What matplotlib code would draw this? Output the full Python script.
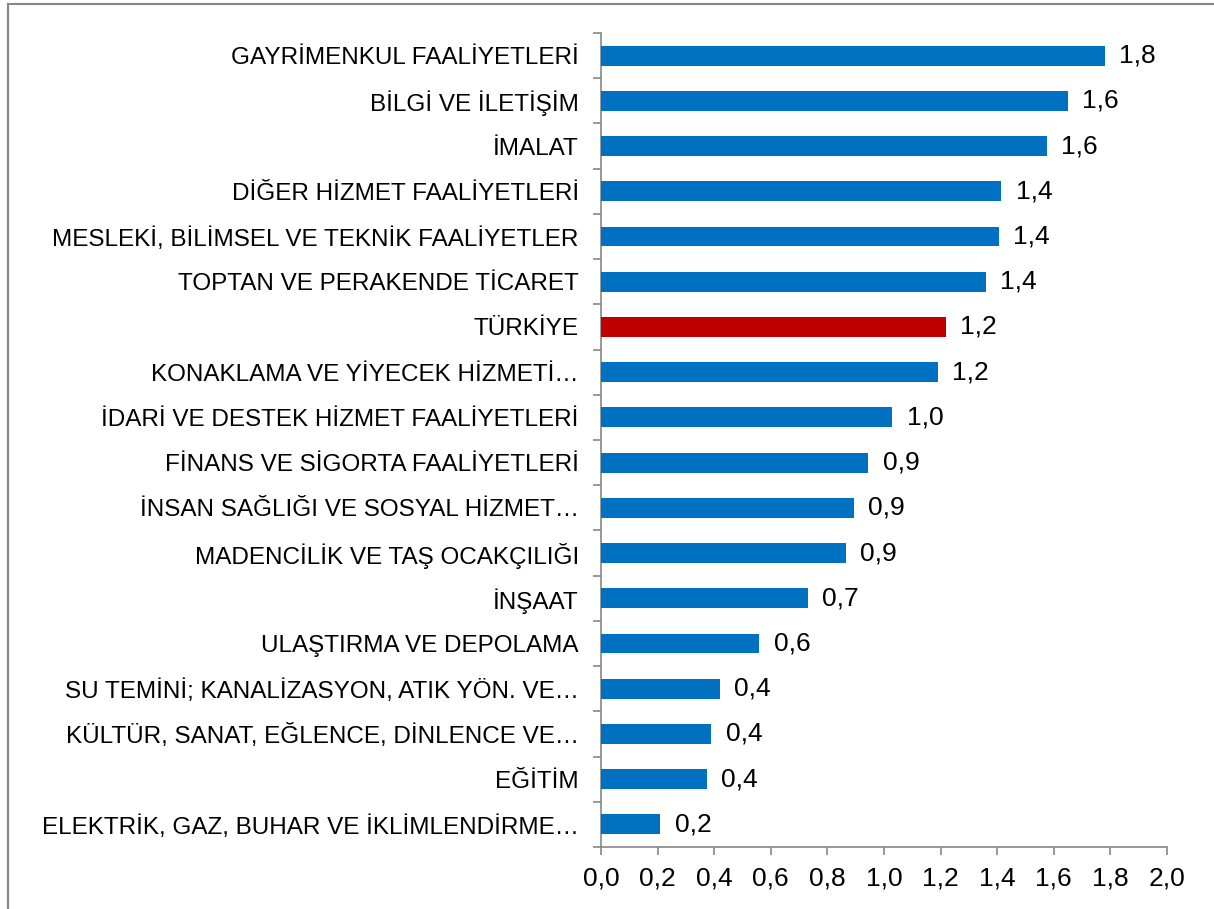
import matplotlib
matplotlib.use("Agg")
import matplotlib.pyplot as plt
from matplotlib.lines import Line2D
import numpy as np

plt.rcParams['font.family'] = ['Liberation Sans', 'DejaVu Sans']

categories = [
    "GAYRİMENKUL FAALİYETLERİ",
    "BİLGİ VE İLETİŞİM",
    "İMALAT",
    "DİĞER HİZMET FAALİYETLERİ",
    "MESLEKİ, BİLİMSEL VE TEKNİK FAALİYETLER",
    "TOPTAN VE PERAKENDE TİCARET",
    "TÜRKİYE",
    "KONAKLAMA VE YİYECEK HİZMETİ…",
    "İDARİ VE DESTEK HİZMET FAALİYETLERİ",
    "FİNANS VE SİGORTA FAALİYETLERİ",
    "İNSAN SAĞLIĞI VE SOSYAL HİZMET…",
    "MADENCİLİK VE TAŞ OCAKÇILIĞI",
    "İNŞAAT",
    "ULAŞTIRMA VE DEPOLAMA",
    "SU TEMİNİ; KANALİZASYON, ATIK YÖN. VE…",
    "KÜLTÜR, SANAT, EĞLENCE, DİNLENCE VE…",
    "EĞİTİM",
    "ELEKTRİK, GAZ, BUHAR VE İKLİMLENDİRME…",
]
values = [1.78, 1.65, 1.575, 1.415, 1.405, 1.36, 1.22, 1.19, 1.03, 0.945,
          0.895, 0.865, 0.73, 0.56, 0.42, 0.39, 0.375, 0.21]
highlight = "TÜRKİYE"
xticks = [0.0, 0.2, 0.4, 0.6, 0.8, 1.0, 1.2, 1.4, 1.6, 1.8, 2.0]

W, H = 1214, 909
fig = plt.figure(figsize=(W / 100, H / 100), dpi=100)
ax = fig.add_axes([601 / W, 1 - 847 / H, (1167 - 601) / W, (847 - 33) / H])

blue = "#0070C0"
red = "#C00000"
gray = "#868686"
colors = [red if c == highlight else blue for c in categories]
y = np.arange(len(categories))
ax.barh(y, values, height=0.44, color=colors, edgecolor="none", zorder=3)

fs_cat = 17.5
fs_num = 19
for yi, v in zip(y, values):
    ax.text(v + 0.05, yi, f"{v:.1f}".replace(".", ","), va="center", ha="left",
            fontsize=fs_num, color="black")

ax.set_xlim(0, 2.0)
ax.set_ylim(len(categories) - 0.5, -0.5)
ax.set_yticks(y)
ax.set_yticklabels(categories, fontsize=fs_cat)
ax.set_yticks(np.arange(-0.5, len(categories), 1.0), minor=True)
ax.tick_params(axis="y", which="major", length=0, pad=16)
ax.tick_params(axis="y", which="minor", length=6, width=1.2, color=gray, direction="out")
ax.set_xticks(xticks)
ax.set_xticklabels([f"{t:.1f}".replace(".", ",") for t in xticks], fontsize=fs_num)
ax.tick_params(axis="x", length=6, width=1.2, color=gray, direction="out", pad=8)

for s in ["top", "right"]:
    ax.spines[s].set_visible(False)
for s in ["left", "bottom"]:
    ax.spines[s].set_color(gray)
    ax.spines[s].set_linewidth(1.2)

# outer frame (left and top edges visible)
fig.add_artist(Line2D([8 / W, 8 / W], [0, 1 - 4 / H], color=gray, lw=1.5))
fig.add_artist(Line2D([8 / W, 1], [1 - 4 / H, 1 - 4 / H], color=gray, lw=1.5))

fig.savefig("out.png", dpi=100, facecolor="white")
